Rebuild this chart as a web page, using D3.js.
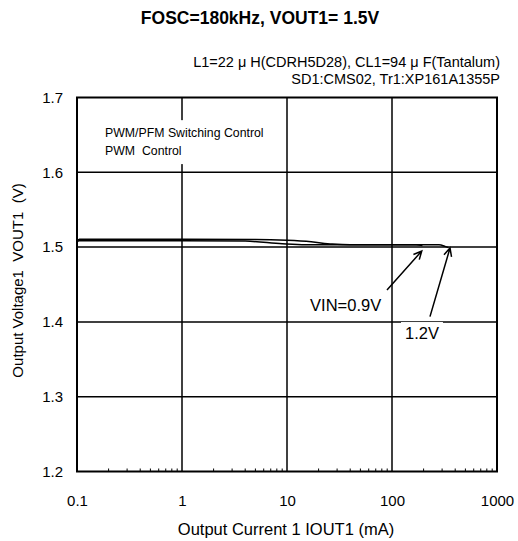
<!DOCTYPE html>
<html>
<head>
<meta charset="utf-8">
<script src="https://cdn.jsdelivr.net/npm/d3@7"></script>
<style>
  html, body { margin: 0; padding: 0; background: #fff; }
  svg { display: block; }
  text { font-family: "Liberation Sans", Arial, sans-serif; fill: #000; white-space: pre; }
</style>
</head>
<body>
<svg id="chart" width="518" height="541"></svg>
<script>
// ---- data ----
const xTicks = [0.1, 1, 10, 100, 1000];
const xTickLabels = ["0.1", "1", "10", "100", "1000"];
const yTicks = [1.2, 1.3, 1.4, 1.5, 1.6, 1.7];
const yTickLabels = ["1.2", "1.3", "1.4", "1.5", "1.6", "1.7"];

// VIN = 1.2V
const iout12 = [0.1, 0.105, 1, 5, 10, 17, 27, 40, 100, 280, 320, 345];
const vout12 = [1.5075, 1.5105, 1.5105, 1.5102, 1.509, 1.507, 1.504, 1.503, 1.503, 1.503, 1.501, 1.4993];
// VIN = 0.9V
const iout09 = [0.1, 0.105, 1, 4, 9, 15, 50, 100, 170, 195];
const vout09 = [1.5075, 1.5085, 1.5085, 1.508, 1.5045, 1.5032, 1.503, 1.503, 1.503, 1.5022];

const title = "FOSC=180kHz, VOUT1= 1.5V";
const subtitle1 = "L1=22 \u03BC H(CDRH5D28), CL1=94 \u03BC F(Tantalum)";
const subtitle2 = "SD1:CMS02, Tr1:XP161A1355P";
const xTitle = "Output Current 1 IOUT1 (mA)";
const yTitle = "Output Voltage1  VOUT1  (V)";
const noteLines = ["PWM/PFM Switching Control", "PWM  Control"];
const noteAt = [[0.185, 1.647], [0.185, 1.623]];
const labels = ["VIN=0.9V", "1.2V"];
const labelAt = [[16.6, 1.4146], [133, 1.3771]];
const arrowFrom = [[89.6, 1.4426], [230, 1.407]];
const arrowTo = [[192, 1.4948], [357, 1.4988]];

// ---- layout ----
const svg = d3.select("#chart");
const L = 77, R = 497, T = 97.5, B = 471.5;
const x = d3.scaleLog().domain([0.1, 1000]).range([L, R]);
const y = d3.scaleLinear().domain([1.2, 1.7]).range([B, T]);

// titles
svg.append("text").attr("x", 260).attr("y", 24).attr("text-anchor", "middle")
  .attr("font-size", 17.5).attr("font-weight", "bold").text(title);
svg.append("text").attr("x", 500).attr("y", 67).attr("text-anchor", "end")
  .attr("font-size", 14.5).text(subtitle1);
svg.append("text").attr("x", 500).attr("y", 84).attr("text-anchor", "end")
  .attr("font-size", 14.5).text(subtitle2);

// grid
const g = svg.append("g");
g.selectAll(".vg").data(xTicks.slice(1, -1)).join("line")
  .attr("x1", d => x(d)).attr("x2", d => x(d)).attr("y1", T).attr("y2", B)
  .attr("stroke", "#000").attr("stroke-width", 1.5);
g.selectAll(".hg").data(yTicks.slice(1, -1)).join("line")
  .attr("x1", L).attr("x2", R).attr("y1", d => y(d)).attr("y2", d => y(d))
  .attr("stroke", "#000").attr("stroke-width", 1.5);

// minor x ticks
const minor = [];
for (let dec = 0.1; dec < 1000; dec *= 10) for (let k = 2; k <= 9; k++) minor.push(dec * k);
g.selectAll(".mt").data(minor).join("line")
  .attr("x1", d => x(d)).attr("x2", d => x(d)).attr("y1", B).attr("y2", B - 3)
  .attr("stroke", "#000").attr("stroke-width", 1);

// axes labels via d3 axes (no domain lines)
const xAxis = d3.axisBottom(x).tickValues(xTicks).tickFormat((d, i) => xTickLabels[i]).tickSize(0).tickPadding(24);
svg.append("g").attr("transform", `translate(0,${B})`).call(xAxis)
  .call(s => s.select(".domain").remove())
  .selectAll("text").attr("font-size", 15).attr("font-family", "Liberation Sans, Arial, sans-serif");
const yAxis = d3.axisLeft(y).tickValues(yTicks).tickFormat((d, i) => yTickLabels[i]).tickSize(0).tickPadding(14);
svg.append("g").attr("transform", `translate(${L},0)`).call(yAxis)
  .call(s => s.select(".domain").remove())
  .selectAll("text").attr("font-size", 15).attr("font-family", "Liberation Sans, Arial, sans-serif");

svg.append("text").attr("x", 286).attr("y", 535).attr("text-anchor", "middle")
  .attr("font-size", 16.5).text(xTitle);
svg.append("text").attr("transform", `translate(23,${(T + B) / 2 - 4}) rotate(-90)`)
  .attr("text-anchor", "middle").attr("font-size", 15).text(yTitle);

// curves
const line = d3.line().x(d => x(d[0])).y(d => y(d[1])).curve(d3.curveMonotoneX);
const s12 = iout12.map((v, i) => [v, vout12[i]]);
const s09 = iout09.map((v, i) => [v, vout09[i]]);
[s09, s12].forEach(s => {
  svg.append("path").datum(s).attr("d", line).attr("fill", "none")
    .attr("stroke", "#000").attr("stroke-width", 1.5);
});

// frame
svg.append("rect").attr("x", L).attr("y", T).attr("width", R - L).attr("height", B - T)
  .attr("fill", "none").attr("stroke", "#000").attr("stroke-width", 2);

// note box
const noteG = svg.append("g");
const noteBg = noteG.append("rect").attr("fill", "#fff");
noteG.selectAll("text").data(noteLines).join("text")
  .attr("x", (d, i) => x(noteAt[i][0])).attr("y", (d, i) => y(noteAt[i][1]))
  .attr("font-size", 12.3).text(d => d);
{
  const bb = noteG.node().getBBox();
  noteBg.attr("x", bb.x - 4).attr("y", bb.y - 6).attr("width", bb.width + 8).attr("height", bb.height + 12);
}

// labels with white backgrounds
labels.forEach((t, i) => {
  const lg = svg.append("g");
  const bg = lg.append("rect").attr("fill", "#fff");
  lg.append("text").attr("x", x(labelAt[i][0])).attr("y", y(labelAt[i][1]))
    .attr("font-size", 16.5).text(t);
  const bb = lg.node().getBBox();
  bg.attr("x", bb.x - 4).attr("y", bb.y - 2).attr("width", bb.width + 8).attr("height", bb.height + 4);
});

// arrows
arrowFrom.forEach((f, i) => {
  const x1 = x(f[0]), y1 = y(f[1]), x2 = x(arrowTo[i][0]), y2 = y(arrowTo[i][1]);
  const ang = Math.atan2(y2 - y1, x2 - x1);
  const hl = 9, ha = 0.45;
  const p = d3.path();
  p.moveTo(x1, y1); p.lineTo(x2, y2);
  p.moveTo(x2 - hl * Math.cos(ang - ha), y2 - hl * Math.sin(ang - ha));
  p.lineTo(x2, y2);
  p.lineTo(x2 - hl * Math.cos(ang + ha), y2 - hl * Math.sin(ang + ha));
  svg.append("path").attr("d", p.toString()).attr("fill", "none")
    .attr("stroke", "#000").attr("stroke-width", 1.5);
});
</script>
</body>
</html>
